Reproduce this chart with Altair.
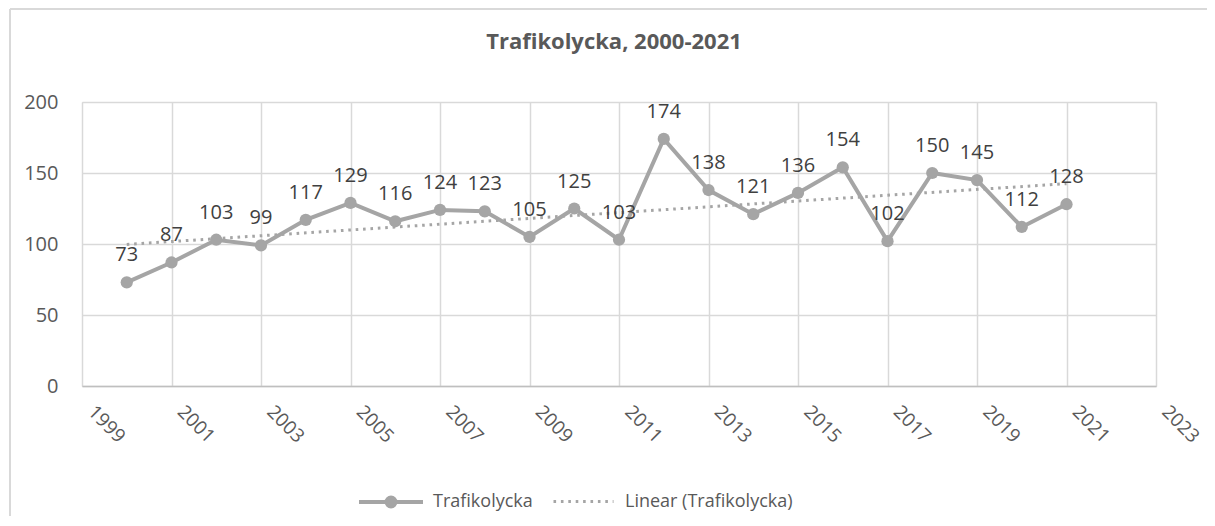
import altair as alt
import pandas as pd

years = list(range(2000, 2022))
values = [73, 87, 103, 99, 117, 129, 116, 124, 123, 105, 125, 103,
          174, 138, 121, 136, 154, 102, 150, 145, 112, 128]
x_ticks = list(range(1999, 2024, 2))
y_ticks = [0, 50, 100, 150, 200]
series_name = "Trafikolycka"
trend_name = "Linear (Trafikolycka)"
title_text = "Trafikolycka, 2000-2021"

df = pd.DataFrame({"year": years, "value": values, "series": [series_name] * len(years)})

GRAY = "#A5A5A5"
GRID = "#D9D9D9"
AXTXT = "#595959"
LBL = "#404040"
FONT = "Open Sans"
FS = 20
LFS = 18

x = alt.X("year:Q",
          scale=alt.Scale(domain=[1999, 2023], nice=False, zero=False),
          axis=alt.Axis(values=x_ticks, format="d", labelAngle=45, labelAlign="left",
                        labelBaseline="top", labelPadding=16, labelOffset=15, title=None,
                        ticks=False, grid=True, gridColor=GRID, gridWidth=1.5,
                        domainColor="#BFBFBF", domainWidth=1.5, labelFontSize=19,
                        labelColor=AXTXT, labelFont=FONT))
y = alt.Y("value:Q",
          scale=alt.Scale(domain=[0, 200], nice=False),
          axis=alt.Axis(values=y_ticks, title=None, ticks=False, domain=False, grid=True,
                        gridColor=GRID, gridWidth=1.5, labelPadding=24, labelFontSize=FS,
                        labelColor=AXTXT, labelFont=FONT))

PATH = ("M-1,0H1"
        "M0.14,0A0.14,0.14 0 1 1 -0.14,0A0.14,0.14 0 1 1 0.14,0"
        "M0.05,0A0.05,0.05 0 1 1 -0.05,0A0.05,0.05 0 1 1 0.05,0")

base = alt.Chart(df)

trend = base.transform_regression("year", "value").transform_calculate(
    s2=f'"{trend_name}"'
).mark_line(color=GRAY, strokeWidth=3).encode(
    x=x, y=y,
    strokeDash=alt.StrokeDash("s2:N",
                              scale=alt.Scale(domain=[trend_name], range=[[2.6, 4.8]]),
                              legend=alt.Legend(title=None, orient="none", legendX=470, legendY=368,
                                                symbolType="stroke", symbolSize=3600,
                                                symbolStrokeWidth=3, symbolStrokeColor=GRAY,
                                                labelFontSize=LFS, labelColor=AXTXT,
                                                labelFont=FONT, labelOffset=10, labelLimit=400))
)

line = base.mark_line(strokeWidth=4).encode(
    x=x, y=y,
    color=alt.Color("series:N",
                    scale=alt.Scale(domain=[series_name], range=[GRAY]),
                    legend=alt.Legend(title=None, orient="none", legendX=275, legendY=366,
                                      symbolType=PATH, symbolSize=4096, symbolStrokeWidth=4,
                                      symbolFillColor=GRAY, labelFontSize=LFS,
                                      labelColor=AXTXT, labelFont=FONT, labelOffset=8,
                                      labelLimit=400))
)

points = base.mark_circle(size=150, color=GRAY, opacity=1).encode(x=x, y=y)

labels = base.mark_text(dy=-27, fontSize=FS, color=LBL, font=FONT, baseline="middle").encode(
    x=x, y=y, text=alt.Text("value:Q")
)

border_df = pd.DataFrame({"k": [0]})
border_left = alt.Chart(border_df).mark_rule(color=GRID, strokeWidth=2).encode(
    x=alt.value(-72), y=alt.value(-93), y2=alt.value(430))
border_top = alt.Chart(border_df).mark_rule(color=GRID, strokeWidth=2).encode(
    x=alt.value(-72), x2=alt.value(1140), y=alt.value(-93))

chart = alt.layer(border_left, border_top, trend, line, points, labels).properties(
    width=1074, height=284,
    title=alt.Title(title_text, fontSize=22, font=FONT, fontWeight="bold", color=AXTXT,
                    anchor="middle", offset=-46, dx=-5),
    autosize=alt.AutoSizeParams(type="none"),
    padding={"left": 74, "top": 94, "right": 51, "bottom": 130},
).configure_view(stroke=None).configure(background="white")

chart.save("out.html", embed_options={"renderer": "svg", "actions": False})
